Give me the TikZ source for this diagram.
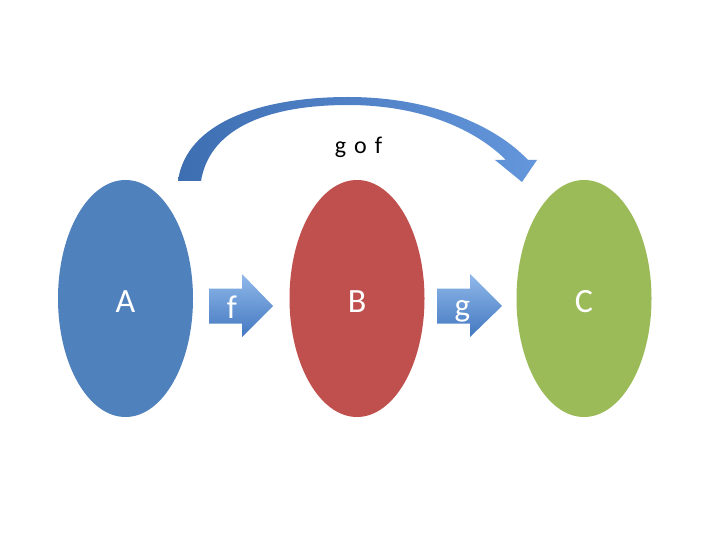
\documentclass[tikz,border=0pt]{standalone}
\usepackage{fontspec}
\setmainfont{Carlito}
\usetikzlibrary{shapes.geometric}
\definecolor{setA}{RGB}{79,129,189}
\definecolor{setB}{RGB}{192,80,77}
\definecolor{setC}{RGB}{155,187,89}
\definecolor{arrtop}{RGB}{145,184,234}
\definecolor{arrbot}{RGB}{66,120,192}
\definecolor{curvleft}{RGB}{62,110,178}
\definecolor{curvright}{RGB}{100,150,220}
\tikzset{
  setnode/.style={ellipse, inner sep=0pt, minimum width=135pt, minimum height=237pt,
    text=white, font=\fontsize{34}{40}\selectfont, text height=28pt, text depth=0pt},
  blockarrow/.style={top color=arrtop, bottom color=arrbot},
  arrlabel/.style={text=white, font=\fontsize{33}{40}\selectfont, inner sep=0pt, anchor=base},
}
\begin{document}
\begin{tikzpicture}[x=1pt,y=-1pt]
\useasboundingbox (0,0) rectangle (720,540);
\fill[white] (0,0) rectangle (720,540);
% sets
\node[setnode, fill=setA] (A) at (125.5,298.5) {A};
\node[setnode, fill=setB] (B) at (357,298.5) {B};
\node[setnode, fill=setC] (C) at (584,298.5) {C};
% block arrow f
\path[blockarrow] (209,288.5) -- (242,288.5) -- (242,274) -- (273,306) -- (242,337) -- (242,323.5) -- (209,323.5) -- cycle;
\node[arrlabel] (f) at (232,318) {f};
% block arrow g
\path[blockarrow] (437,288.5) -- (470,288.5) -- (470,274) -- (502,306) -- (470,337) -- (470,323.5) -- (437,323.5) -- cycle;
\node[arrlabel] (g) at (462.5,316) {g};
% curved arrow g o f
\path[left color=curvleft, right color=curvright]
  (178,181) .. controls (186,122) and (262,97) .. (348,97)
  .. controls (432,97) and (496,126) .. (528,160)
  -- (537,160) -- (522,182) -- (495,160) -- (506,160)
  .. controls (476,130) and (422,105) .. (348,105)
  .. controls (272,105) and (210,126) .. (201,181) -- cycle;
\node[font=\fontsize{24}{28}\selectfont, anchor=base, inner sep=0pt] (gof) at (358.5,154) {g\hspace{8pt}o\hspace{8pt}f};
\end{tikzpicture}
\end{document}
